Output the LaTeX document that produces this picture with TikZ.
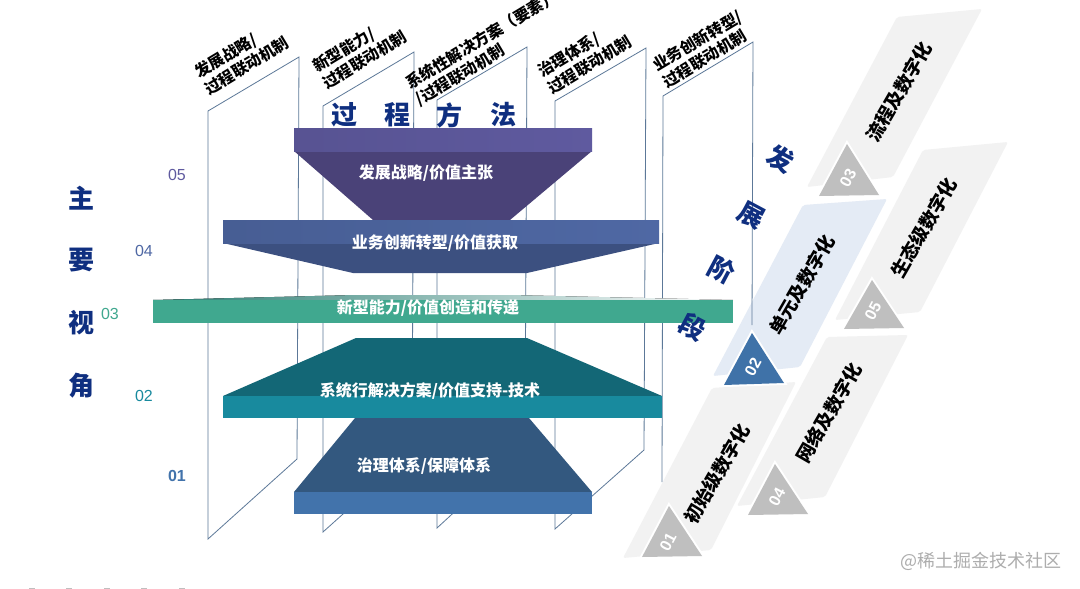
\documentclass[tikz,border=0pt]{standalone}
\usepackage{fontspec}
\setmainfont{Noto Sans CJK SC}
\newfontfamily\latinfont{Liberation Sans}
\definecolor{navy}{HTML}{0F2F80}
\definecolor{panelline}{HTML}{5C7898}
\definecolor{tilegray}{HTML}{F2F2F2}
\definecolor{tileblue}{HTML}{E4EBF5}
\definecolor{trigray}{HTML}{BFBFBF}
\definecolor{triblue}{HTML}{3F72A8}
\definecolor{bandA}{HTML}{5F5A9F}
\definecolor{trapA}{HTML}{4A4278}
\definecolor{bandB}{HTML}{4F68A4}
\definecolor{trapB}{HTML}{3C5080}
\definecolor{bandC}{HTML}{40A88F}
\definecolor{trapC}{HTML}{2A7D72}
\definecolor{bandD}{HTML}{188A9E}
\definecolor{trapD}{HTML}{136776}
\definecolor{bandE}{HTML}{4273AB}
\definecolor{trapE}{HTML}{33587F}
\tikzset{
  x=1pt,y=-1pt,
  panel/.style={draw=panelline,line width=0.8pt,line join=miter},
  tile/.style={fill=tilegray,rounded corners=2pt},
  tri/.style={fill=trigray,preaction={draw=white,line width=4pt,line join=miter}},
  bandlabel/.style={text=white,font=\bfseries\fontsize{16}{18}\selectfont,inner sep=0pt},
  heading/.style={text=navy,font=\bfseries\fontsize{26}{28}\selectfont,inner sep=0pt},
  panellabel/.style={text=black,font=\bfseries\fontsize{15.8}{19}\selectfont,align=left,anchor=west,rotate=31,inner sep=0pt},
  tilelabel/.style={text=black,font=\bfseries\fontsize{18.6}{20}\selectfont,rotate=60,inner sep=0pt},
  trinum/.style={text=white,font=\latinfont\bfseries\fontsize{16}{17}\selectfont,rotate=62,inner sep=0pt},
  sidenum/.style={font=\latinfont\fontsize{16}{18}\selectfont,inner sep=0pt},
}
\begin{document}
\begin{tikzpicture}
\useasboundingbox (0,0) rectangle (1080,589);
\clip (0,0) rectangle (1080,589);
\fill[white] (0,0) rectangle (1080,589);

% sloped tiles
\fill[tile] (623,558) -- (712,388) -- (796,382) -- (711,550) -- cycle;
\fill[tile] (737,506) -- (827,337) -- (908,335) -- (825,497) -- cycle;
\fill[tile,fill=tileblue] (713,376) -- (803,205) -- (887,199) -- (800,367) -- cycle;
\fill[tile] (835,320) -- (923,150) -- (1008,142) -- (920,312) -- cycle;
\fill[tile] (807,187) -- (897,17) -- (982,9) -- (893,177) -- cycle;

% panels
\draw[panel] (208,539) -- (208,111) -- (299,57) -- (297,459) -- cycle;
\draw[panel] (323,532) -- (323,106) -- (414,52) -- (412,452) -- cycle;
\draw[panel] (437,528) -- (437,100) -- (527,47) -- (525,447) -- cycle;
\draw[panel] (555,529) -- (555,101) -- (646,48) -- (644,450) -- cycle;
\draw[panel] (662,482) -- (663,96) -- (753,42) -- (752,325);

% panel labels
\node[panellabel] (pl1) at (201,82) {发展战略/\\过程联动机制};
\node[panellabel] (pl2) at (319,76) {新型能力/\\过程联动机制};
\node[panellabel] (pl3) at (412,93) {系统性解决方案（要素）\\/过程联动机制};
\node[panellabel] (pl4) at (544,81) {治理体系/\\过程联动机制};
\node[panellabel] (pl5) at (659,75) {业务创新转型/\\过程联动机制};

% heading
\node[heading] (h1) at (344,115) {过};
\node[heading] (h2) at (397,115) {程};
\node[heading] (h3) at (449,115) {方};
\node[heading] (h4) at (503,115) {法};

% layer 05
\fill[trapA] (294,151) -- (592,151) -- (510,220) -- (373,220) -- cycle;
\fill[left color=bandA!92!black,right color=bandA] (294,128) rectangle (592,151);
% layer 01 trapezoid (under band 02)
\fill[trapE] (294,492) -- (592,492) -- (529,418) -- (355,418) -- cycle;
\fill[bandE] (294,492) rectangle (592,514);
% layer 04
\fill[trapB] (223,243) -- (659,243) -- (527,273) -- (353,273) -- cycle;
\fill[left color=bandB!90!black,right color=bandB] (223,220) rectangle (659,243);
% layer 03
\fill[left color=trapC,middle color=trapC,right color=white] (153,300) -- (355,295) -- (510,295) -- (733,300) -- cycle;
\fill[bandC] (153,300) rectangle (733,323);
% layer 02
\fill[trapD] (223,396) -- (356,338) -- (527,338) -- (662,396) -- cycle;
\fill[bandD] (223,396) rectangle (662,418);

% band labels
\node[bandlabel] (b5) at (426,173) {发展战略/价值主张};
\node[bandlabel] (b4) at (435,243) {业务创新转型/价值获取};
\node[bandlabel] (b3) at (428,308) {新型能力/价值创造和传递};
\node[bandlabel] (b2) at (430,391) {系统行解决方案/价值支持-技术};
\node[bandlabel] (b1) at (424,466) {治理体系/保障体系};

% side numbers
\node[sidenum,text=bandA] (n5) at (177,175) {05};
\node[sidenum,text=bandB] (n4) at (144,251) {04};
\node[sidenum,text=bandC] (n3) at (110,314) {03};
\node[sidenum,text=bandD] (n2) at (144,396) {02};
\node[sidenum,text=bandE,font=\latinfont\bfseries\fontsize{16}{18}\selectfont] (n1) at (177,476) {01};

% left heading
\node[heading] (v1) at (81,198) {主};
\node[heading] (v2) at (81,260) {要};
\node[heading] (v3) at (81,323) {视};
\node[heading] (v4) at (81,386) {角};

% stage heading
\node[heading,rotate=-28] (s1) at (781,159) {发};
\node[heading,rotate=-28] (s2) at (751,215) {展};
\node[heading,rotate=-28] (s3) at (722,270) {阶};
\node[heading,rotate=-28] (s4) at (693,327) {段};

% triangles
\path[tri] (669,506) -- (642,557) -- (702,556) -- cycle;
\path[tri,fill=triblue] (752,333) -- (724,385) -- (784,383) -- cycle;
\path[tri] (847,144) -- (819,196) -- (879,195) -- cycle;
\path[tri] (775,464) -- (748,515) -- (808,514) -- cycle;
\path[tri] (872,280) -- (844,329) -- (904,328) -- cycle;
\node[trinum] (t1) at (668,542) {01};
\node[trinum] (t2) at (753,367) {02};
\node[trinum] (t3) at (848,178) {03};
\node[trinum] (t4) at (777,497) {04};
\node[trinum] (t5) at (873,311) {05};

% tile labels
\node[tilelabel] (l1) at (717,474) {初始级数字化};
\node[tilelabel] (l2) at (802,285) {单元及数字化};
\node[tilelabel] (l3) at (899,92) {流程及数字化};
\node[tilelabel] (l4) at (829,413) {网络及数字化};
\node[tilelabel] (l5) at (924,228) {生态级数字化};

% watermark
\node[text=black!32,font=\fontsize{18}{20}\selectfont,inner sep=0pt] (wm) at (981,561) {@稀土掘金技术社区};

% residue of clipped text at the bottom edge
\foreach \mx in {32,69,107,144,182} \fill[black!25] (\mx-3,588) rectangle (\mx+3,589);
\end{tikzpicture}
\end{document}
